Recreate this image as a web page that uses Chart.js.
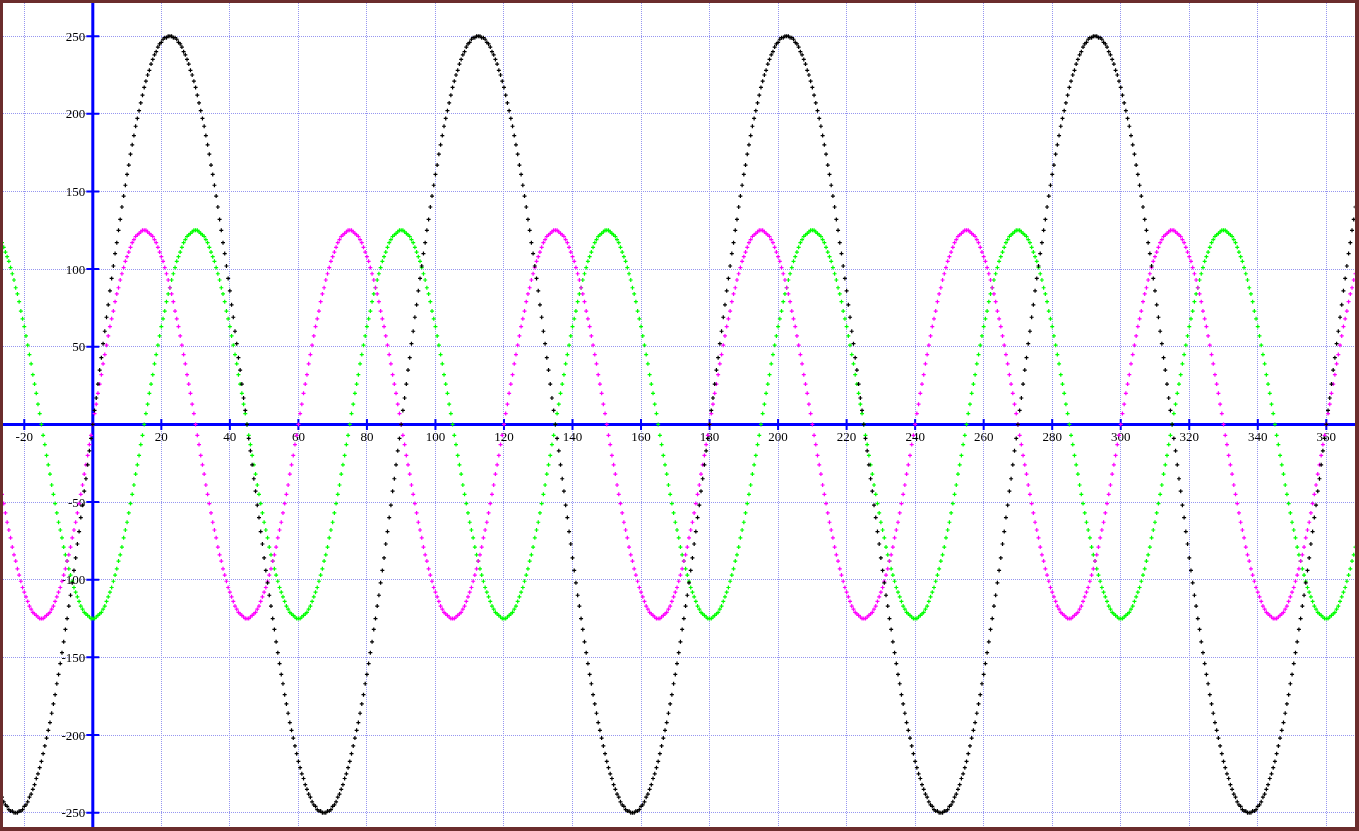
<!DOCTYPE html>
<html><head><meta charset="utf-8">
<script src="https://cdn.jsdelivr.net/npm/chart.js@4.4.1/dist/chart.umd.min.js"></script>
<style>
html,body{margin:0;padding:0;background:#fff;}
#frame{position:absolute;left:0;top:0;width:1352px;height:824px;border-style:solid;border-color:#6b2d2d;border-width:3px 4px 4px 3px;background:#fff;}
canvas{display:block;}
</style></head><body>
<div id="frame"><canvas id="c" width="1352" height="824"></canvas></div>
<script>
const xValues = [
-27,-26.5,-26,-25.5,-25,-24.5,-24,-23.5,-23,-22.5,-22,-21.5,-21,-20.5,-20,-19.5,-19,-18.5,-18,-17.5,
-17,-16.5,-16,-15.5,-15,-14.5,-14,-13.5,-13,-12.5,-12,-11.5,-11,-10.5,-10,-9.5,-9,-8.5,-8,-7.5,
-7,-6.5,-6,-5.5,-5,-4.5,-4,-3.5,-3,-2.5,-2,-1.5,-1,-0.5,0,0.5,1,1.5,2,2.5,
3,3.5,4,4.5,5,5.5,6,6.5,7,7.5,8,8.5,9,9.5,10,10.5,11,11.5,12,12.5,
13,13.5,14,14.5,15,15.5,16,16.5,17,17.5,18,18.5,19,19.5,20,20.5,21,21.5,22,22.5,
23,23.5,24,24.5,25,25.5,26,26.5,27,27.5,28,28.5,29,29.5,30,30.5,31,31.5,32,32.5,
33,33.5,34,34.5,35,35.5,36,36.5,37,37.5,38,38.5,39,39.5,40,40.5,41,41.5,42,42.5,
43,43.5,44,44.5,45,45.5,46,46.5,47,47.5,48,48.5,49,49.5,50,50.5,51,51.5,52,52.5,
53,53.5,54,54.5,55,55.5,56,56.5,57,57.5,58,58.5,59,59.5,60,60.5,61,61.5,62,62.5,
63,63.5,64,64.5,65,65.5,66,66.5,67,67.5,68,68.5,69,69.5,70,70.5,71,71.5,72,72.5,
73,73.5,74,74.5,75,75.5,76,76.5,77,77.5,78,78.5,79,79.5,80,80.5,81,81.5,82,82.5,
83,83.5,84,84.5,85,85.5,86,86.5,87,87.5,88,88.5,89,89.5,90,90.5,91,91.5,92,92.5,
93,93.5,94,94.5,95,95.5,96,96.5,97,97.5,98,98.5,99,99.5,100,100.5,101,101.5,102,102.5,
103,103.5,104,104.5,105,105.5,106,106.5,107,107.5,108,108.5,109,109.5,110,110.5,111,111.5,112,112.5,
113,113.5,114,114.5,115,115.5,116,116.5,117,117.5,118,118.5,119,119.5,120,120.5,121,121.5,122,122.5,
123,123.5,124,124.5,125,125.5,126,126.5,127,127.5,128,128.5,129,129.5,130,130.5,131,131.5,132,132.5,
133,133.5,134,134.5,135,135.5,136,136.5,137,137.5,138,138.5,139,139.5,140,140.5,141,141.5,142,142.5,
143,143.5,144,144.5,145,145.5,146,146.5,147,147.5,148,148.5,149,149.5,150,150.5,151,151.5,152,152.5,
153,153.5,154,154.5,155,155.5,156,156.5,157,157.5,158,158.5,159,159.5,160,160.5,161,161.5,162,162.5,
163,163.5,164,164.5,165,165.5,166,166.5,167,167.5,168,168.5,169,169.5,170,170.5,171,171.5,172,172.5,
173,173.5,174,174.5,175,175.5,176,176.5,177,177.5,178,178.5,179,179.5,180,180.5,181,181.5,182,182.5,
183,183.5,184,184.5,185,185.5,186,186.5,187,187.5,188,188.5,189,189.5,190,190.5,191,191.5,192,192.5,
193,193.5,194,194.5,195,195.5,196,196.5,197,197.5,198,198.5,199,199.5,200,200.5,201,201.5,202,202.5,
203,203.5,204,204.5,205,205.5,206,206.5,207,207.5,208,208.5,209,209.5,210,210.5,211,211.5,212,212.5,
213,213.5,214,214.5,215,215.5,216,216.5,217,217.5,218,218.5,219,219.5,220,220.5,221,221.5,222,222.5,
223,223.5,224,224.5,225,225.5,226,226.5,227,227.5,228,228.5,229,229.5,230,230.5,231,231.5,232,232.5,
233,233.5,234,234.5,235,235.5,236,236.5,237,237.5,238,238.5,239,239.5,240,240.5,241,241.5,242,242.5,
243,243.5,244,244.5,245,245.5,246,246.5,247,247.5,248,248.5,249,249.5,250,250.5,251,251.5,252,252.5,
253,253.5,254,254.5,255,255.5,256,256.5,257,257.5,258,258.5,259,259.5,260,260.5,261,261.5,262,262.5,
263,263.5,264,264.5,265,265.5,266,266.5,267,267.5,268,268.5,269,269.5,270,270.5,271,271.5,272,272.5,
273,273.5,274,274.5,275,275.5,276,276.5,277,277.5,278,278.5,279,279.5,280,280.5,281,281.5,282,282.5,
283,283.5,284,284.5,285,285.5,286,286.5,287,287.5,288,288.5,289,289.5,290,290.5,291,291.5,292,292.5,
293,293.5,294,294.5,295,295.5,296,296.5,297,297.5,298,298.5,299,299.5,300,300.5,301,301.5,302,302.5,
303,303.5,304,304.5,305,305.5,306,306.5,307,307.5,308,308.5,309,309.5,310,310.5,311,311.5,312,312.5,
313,313.5,314,314.5,315,315.5,316,316.5,317,317.5,318,318.5,319,319.5,320,320.5,321,321.5,322,322.5,
323,323.5,324,324.5,325,325.5,326,326.5,327,327.5,328,328.5,329,329.5,330,330.5,331,331.5,332,332.5,
333,333.5,334,334.5,335,335.5,336,336.5,337,337.5,338,338.5,339,339.5,340,340.5,341,341.5,342,342.5,
343,343.5,344,344.5,345,345.5,346,346.5,347,347.5,348,348.5,349,349.5,350,350.5,351,351.5,352,352.5,
353,353.5,354,354.5,355,355.5,356,356.5,357,357.5,358,358.5,359,359.5,360,360.5,361,361.5,362,362.5,
363,363.5,364,364.5,365,365.5,366,366.5,367,367.5,368,368.5,369
];

const magentaSeries = [
-39,-45,-51,-57,-63,-68,-73,-79,-84,-88,-93,-97,-101,-105,-108,-111,-114,-117,-119,-121,
-122,-123,-124,-125,-125,-125,-124,-123,-122,-121,-119,-117,-114,-111,-108,-105,-101,-97,-93,-88,
-84,-79,-73,-68,-63,-57,-51,-45,-39,-32,-26,-20,-13,-7,0,7,13,20,26,32,
39,45,51,57,63,68,73,79,84,88,93,97,101,105,108,111,114,117,119,121,
122,123,124,125,125,125,124,123,122,121,119,117,114,111,108,105,101,97,93,88,
84,79,73,68,63,57,51,45,39,32,26,20,13,7,0,-7,-13,-20,-26,-32,
-39,-45,-51,-57,-63,-68,-73,-79,-84,-88,-93,-97,-101,-105,-108,-111,-114,-117,-119,-121,
-122,-123,-124,-125,-125,-125,-124,-123,-122,-121,-119,-117,-114,-111,-108,-105,-101,-97,-93,-88,
-84,-79,-73,-68,-63,-57,-51,-45,-39,-32,-26,-20,-13,-7,0,7,13,20,26,32,
39,45,51,57,63,68,73,79,84,88,93,97,101,105,108,111,114,117,119,121,
122,123,124,125,125,125,124,123,122,121,119,117,114,111,108,105,101,97,93,88,
84,79,73,68,63,57,51,45,39,32,26,20,13,7,0,-7,-13,-20,-26,-32,
-39,-45,-51,-57,-63,-68,-73,-79,-84,-88,-93,-97,-101,-105,-108,-111,-114,-117,-119,-121,
-122,-123,-124,-125,-125,-125,-124,-123,-122,-121,-119,-117,-114,-111,-108,-105,-101,-97,-93,-88,
-84,-79,-73,-68,-63,-57,-51,-45,-39,-32,-26,-20,-13,-7,0,7,13,20,26,32,
39,45,51,57,63,68,73,79,84,88,93,97,101,105,108,111,114,117,119,121,
122,123,124,125,125,125,124,123,122,121,119,117,114,111,108,105,101,97,93,88,
84,79,73,68,63,57,51,45,39,32,26,20,13,7,0,-7,-13,-20,-26,-32,
-39,-45,-51,-57,-63,-68,-73,-79,-84,-88,-93,-97,-101,-105,-108,-111,-114,-117,-119,-121,
-122,-123,-124,-125,-125,-125,-124,-123,-122,-121,-119,-117,-114,-111,-108,-105,-101,-97,-93,-88,
-84,-79,-73,-68,-63,-57,-51,-45,-39,-32,-26,-20,-13,-7,0,7,13,20,26,32,
39,45,51,57,63,68,73,79,84,88,93,97,101,105,108,111,114,117,119,121,
122,123,124,125,125,125,124,123,122,121,119,117,114,111,108,105,101,97,93,88,
84,79,73,68,63,57,51,45,39,32,26,20,13,7,0,-7,-13,-20,-26,-32,
-39,-45,-51,-57,-63,-68,-73,-79,-84,-88,-93,-97,-101,-105,-108,-111,-114,-117,-119,-121,
-122,-123,-124,-125,-125,-125,-124,-123,-122,-121,-119,-117,-114,-111,-108,-105,-101,-97,-93,-88,
-84,-79,-73,-68,-63,-57,-51,-45,-39,-32,-26,-20,-13,-7,0,7,13,20,26,32,
39,45,51,57,63,68,73,79,84,88,93,97,101,105,108,111,114,117,119,121,
122,123,124,125,125,125,124,123,122,121,119,117,114,111,108,105,101,97,93,88,
84,79,73,68,63,57,51,45,39,32,26,20,13,7,0,-7,-13,-20,-26,-32,
-39,-45,-51,-57,-63,-68,-73,-79,-84,-88,-93,-97,-101,-105,-108,-111,-114,-117,-119,-121,
-122,-123,-124,-125,-125,-125,-124,-123,-122,-121,-119,-117,-114,-111,-108,-105,-101,-97,-93,-88,
-84,-79,-73,-68,-63,-57,-51,-45,-39,-32,-26,-20,-13,-7,0,7,13,20,26,32,
39,45,51,57,63,68,73,79,84,88,93,97,101,105,108,111,114,117,119,121,
122,123,124,125,125,125,124,123,122,121,119,117,114,111,108,105,101,97,93,88,
84,79,73,68,63,57,51,45,39,32,26,20,13,7,0,-7,-13,-20,-26,-32,
-39,-45,-51,-57,-63,-68,-73,-79,-84,-88,-93,-97,-101,-105,-108,-111,-114,-117,-119,-121,
-122,-123,-124,-125,-125,-125,-124,-123,-122,-121,-119,-117,-114,-111,-108,-105,-101,-97,-93,-88,
-84,-79,-73,-68,-63,-57,-51,-45,-39,-32,-26,-20,-13,-7,0,7,13,20,26,32,
39,45,51,57,63,68,73,79,84,88,93,97,101
];

const greenSeries = [
119,117,114,111,108,105,101,97,93,88,84,79,73,68,63,57,51,45,39,32,
26,20,13,7,0,-7,-13,-20,-26,-32,-39,-45,-51,-57,-63,-68,-73,-79,-84,-88,
-93,-97,-101,-105,-108,-111,-114,-117,-119,-121,-122,-123,-124,-125,-125,-125,-124,-123,-122,-121,
-119,-117,-114,-111,-108,-105,-101,-97,-93,-88,-84,-79,-73,-68,-63,-57,-51,-45,-39,-32,
-26,-20,-13,-7,0,7,13,20,26,32,39,45,51,57,63,68,73,79,84,88,
93,97,101,105,108,111,114,117,119,121,122,123,124,125,125,125,124,123,122,121,
119,117,114,111,108,105,101,97,93,88,84,79,73,68,63,57,51,45,39,32,
26,20,13,7,0,-7,-13,-20,-26,-32,-39,-45,-51,-57,-63,-68,-73,-79,-84,-88,
-93,-97,-101,-105,-108,-111,-114,-117,-119,-121,-122,-123,-124,-125,-125,-125,-124,-123,-122,-121,
-119,-117,-114,-111,-108,-105,-101,-97,-93,-88,-84,-79,-73,-68,-63,-57,-51,-45,-39,-32,
-26,-20,-13,-7,0,7,13,20,26,32,39,45,51,57,63,68,73,79,84,88,
93,97,101,105,108,111,114,117,119,121,122,123,124,125,125,125,124,123,122,121,
119,117,114,111,108,105,101,97,93,88,84,79,73,68,63,57,51,45,39,32,
26,20,13,7,0,-7,-13,-20,-26,-32,-39,-45,-51,-57,-63,-68,-73,-79,-84,-88,
-93,-97,-101,-105,-108,-111,-114,-117,-119,-121,-122,-123,-124,-125,-125,-125,-124,-123,-122,-121,
-119,-117,-114,-111,-108,-105,-101,-97,-93,-88,-84,-79,-73,-68,-63,-57,-51,-45,-39,-32,
-26,-20,-13,-7,0,7,13,20,26,32,39,45,51,57,63,68,73,79,84,88,
93,97,101,105,108,111,114,117,119,121,122,123,124,125,125,125,124,123,122,121,
119,117,114,111,108,105,101,97,93,88,84,79,73,68,63,57,51,45,39,32,
26,20,13,7,0,-7,-13,-20,-26,-32,-39,-45,-51,-57,-63,-68,-73,-79,-84,-88,
-93,-97,-101,-105,-108,-111,-114,-117,-119,-121,-122,-123,-124,-125,-125,-125,-124,-123,-122,-121,
-119,-117,-114,-111,-108,-105,-101,-97,-93,-88,-84,-79,-73,-68,-63,-57,-51,-45,-39,-32,
-26,-20,-13,-7,0,7,13,20,26,32,39,45,51,57,63,68,73,79,84,88,
93,97,101,105,108,111,114,117,119,121,122,123,124,125,125,125,124,123,122,121,
119,117,114,111,108,105,101,97,93,88,84,79,73,68,63,57,51,45,39,32,
26,20,13,7,0,-7,-13,-20,-26,-32,-39,-45,-51,-57,-63,-68,-73,-79,-84,-88,
-93,-97,-101,-105,-108,-111,-114,-117,-119,-121,-122,-123,-124,-125,-125,-125,-124,-123,-122,-121,
-119,-117,-114,-111,-108,-105,-101,-97,-93,-88,-84,-79,-73,-68,-63,-57,-51,-45,-39,-32,
-26,-20,-13,-7,0,7,13,20,26,32,39,45,51,57,63,68,73,79,84,88,
93,97,101,105,108,111,114,117,119,121,122,123,124,125,125,125,124,123,122,121,
119,117,114,111,108,105,101,97,93,88,84,79,73,68,63,57,51,45,39,32,
26,20,13,7,0,-7,-13,-20,-26,-32,-39,-45,-51,-57,-63,-68,-73,-79,-84,-88,
-93,-97,-101,-105,-108,-111,-114,-117,-119,-121,-122,-123,-124,-125,-125,-125,-124,-123,-122,-121,
-119,-117,-114,-111,-108,-105,-101,-97,-93,-88,-84,-79,-73,-68,-63,-57,-51,-45,-39,-32,
-26,-20,-13,-7,0,7,13,20,26,32,39,45,51,57,63,68,73,79,84,88,
93,97,101,105,108,111,114,117,119,121,122,123,124,125,125,125,124,123,122,121,
119,117,114,111,108,105,101,97,93,88,84,79,73,68,63,57,51,45,39,32,
26,20,13,7,0,-7,-13,-20,-26,-32,-39,-45,-51,-57,-63,-68,-73,-79,-84,-88,
-93,-97,-101,-105,-108,-111,-114,-117,-119,-121,-122,-123,-124,-125,-125,-125,-124,-123,-122,-121,
-119,-117,-114,-111,-108,-105,-101,-97,-93,-88,-84,-79,-73
];

const blackSeries = [
-238,-240,-243,-245,-246,-248,-249,-249,-250,-250,-250,-249,-249,-248,-246,-245,-243,-240,-238,-235,
-232,-228,-225,-221,-217,-212,-207,-202,-197,-192,-186,-180,-174,-167,-161,-154,-147,-140,-132,-125,
-117,-110,-102,-94,-86,-77,-69,-60,-52,-43,-35,-26,-17,-9,0,9,17,26,35,43,
52,60,69,77,86,94,102,110,117,125,132,140,147,154,161,167,174,180,186,192,
197,202,207,212,217,221,225,228,232,235,238,240,243,245,246,248,249,249,250,250,
250,249,249,248,246,245,243,240,238,235,232,228,225,221,217,212,207,202,197,192,
186,180,174,167,161,154,147,140,132,125,117,110,102,94,86,77,69,60,52,43,
35,26,17,9,0,-9,-17,-26,-35,-43,-52,-60,-69,-77,-86,-94,-102,-110,-117,-125,
-132,-140,-147,-154,-161,-167,-174,-180,-186,-192,-197,-202,-207,-212,-217,-221,-225,-228,-232,-235,
-238,-240,-243,-245,-246,-248,-249,-249,-250,-250,-250,-249,-249,-248,-246,-245,-243,-240,-238,-235,
-232,-228,-225,-221,-217,-212,-207,-202,-197,-192,-186,-180,-174,-167,-161,-154,-147,-140,-132,-125,
-117,-110,-102,-94,-86,-77,-69,-60,-52,-43,-35,-26,-17,-9,0,9,17,26,35,43,
52,60,69,77,86,94,102,110,117,125,132,140,147,154,161,167,174,180,186,192,
197,202,207,212,217,221,225,228,232,235,238,240,243,245,246,248,249,249,250,250,
250,249,249,248,246,245,243,240,238,235,232,228,225,221,217,212,207,202,197,192,
186,180,174,167,161,154,147,140,132,125,117,110,102,94,86,77,69,60,52,43,
35,26,17,9,0,-9,-17,-26,-35,-43,-52,-60,-69,-77,-86,-94,-102,-110,-117,-125,
-132,-140,-147,-154,-161,-167,-174,-180,-186,-192,-197,-202,-207,-212,-217,-221,-225,-228,-232,-235,
-238,-240,-243,-245,-246,-248,-249,-249,-250,-250,-250,-249,-249,-248,-246,-245,-243,-240,-238,-235,
-232,-228,-225,-221,-217,-212,-207,-202,-197,-192,-186,-180,-174,-167,-161,-154,-147,-140,-132,-125,
-117,-110,-102,-94,-86,-77,-69,-60,-52,-43,-35,-26,-17,-9,0,9,17,26,35,43,
52,60,69,77,86,94,102,110,117,125,132,140,147,154,161,167,174,180,186,192,
197,202,207,212,217,221,225,228,232,235,238,240,243,245,246,248,249,249,250,250,
250,249,249,248,246,245,243,240,238,235,232,228,225,221,217,212,207,202,197,192,
186,180,174,167,161,154,147,140,132,125,117,110,102,94,86,77,69,60,52,43,
35,26,17,9,0,-9,-17,-26,-35,-43,-52,-60,-69,-77,-86,-94,-102,-110,-117,-125,
-132,-140,-147,-154,-161,-167,-174,-180,-186,-192,-197,-202,-207,-212,-217,-221,-225,-228,-232,-235,
-238,-240,-243,-245,-246,-248,-249,-249,-250,-250,-250,-249,-249,-248,-246,-245,-243,-240,-238,-235,
-232,-228,-225,-221,-217,-212,-207,-202,-197,-192,-186,-180,-174,-167,-161,-154,-147,-140,-132,-125,
-117,-110,-102,-94,-86,-77,-69,-60,-52,-43,-35,-26,-17,-9,0,9,17,26,35,43,
52,60,69,77,86,94,102,110,117,125,132,140,147,154,161,167,174,180,186,192,
197,202,207,212,217,221,225,228,232,235,238,240,243,245,246,248,249,249,250,250,
250,249,249,248,246,245,243,240,238,235,232,228,225,221,217,212,207,202,197,192,
186,180,174,167,161,154,147,140,132,125,117,110,102,94,86,77,69,60,52,43,
35,26,17,9,0,-9,-17,-26,-35,-43,-52,-60,-69,-77,-86,-94,-102,-110,-117,-125,
-132,-140,-147,-154,-161,-167,-174,-180,-186,-192,-197,-202,-207,-212,-217,-221,-225,-228,-232,-235,
-238,-240,-243,-245,-246,-248,-249,-249,-250,-250,-250,-249,-249,-248,-246,-245,-243,-240,-238,-235,
-232,-228,-225,-221,-217,-212,-207,-202,-197,-192,-186,-180,-174,-167,-161,-154,-147,-140,-132,-125,
-117,-110,-102,-94,-86,-77,-69,-60,-52,-43,-35,-26,-17,-9,0,9,17,26,35,43,
52,60,69,77,86,94,102,110,117,125,132,140,147
];

const xTickLabels = [-20,20,40,60,80,100,120,140,160,180,200,220,240,260,280,300,320,340,360];
const yTickLabels = [250,200,150,100,50,-50,-100,-150,-200,-250];

const centerAxes = {
  id: 'centerAxes',
  beforeDatasetsDraw(chart) {
    const {ctx, chartArea: a, scales: {x, y}} = chart;
    const x0 = x.getPixelForValue(0), y0 = y.getPixelForValue(0);
    ctx.save();
    ctx.strokeStyle = '#0000ff';
    ctx.lineWidth = 3;
    ctx.beginPath();
    ctx.moveTo(a.left, y0); ctx.lineTo(a.right, y0);
    ctx.moveTo(x0, a.top); ctx.lineTo(x0, a.bottom);
    ctx.stroke();
    ctx.lineWidth = 2;
    ctx.beginPath();
    xTickLabels.forEach(v => { const p = x.getPixelForValue(v); ctx.moveTo(p, y0 - 5.5); ctx.lineTo(p, y0 + 5.5); });
    yTickLabels.forEach(v => { const p = y.getPixelForValue(v); ctx.moveTo(x0 - 6.5, p); ctx.lineTo(x0 + 6.5, p); });
    ctx.stroke();
    ctx.fillStyle = '#000';
    ctx.font = '13px "Liberation Serif", "Times New Roman", serif';
    ctx.textBaseline = 'alphabetic';
    ctx.textAlign = 'center';
    xTickLabels.forEach(v => ctx.fillText(String(v), x.getPixelForValue(v), y0 + 16.7));
    ctx.textAlign = 'right';
    yTickLabels.forEach(v => ctx.fillText(String(v), x0 - 7.5, y.getPixelForValue(v) + 4.5));
    ctx.restore();
  }
};

function makeSet(label, data, color) {
  return {
    label, data, showLine: false,
    borderColor: color, backgroundColor: color,
    pointStyle: 'cross', pointRadius: 2, pointBorderWidth: 1.2,
    pointBorderColor: color, pointBackgroundColor: color
  };
}

const gridOpts = { color: '#9696f0', lineWidth: 1, drawTicks: false };
const borderOpts = { display: false, dash: [1, 1] };

new Chart(document.getElementById('c'), {
  type: 'line',
  data: {
    labels: xValues,
    datasets: [
      makeSet('black', blackSeries, '#000000'),
      makeSet('magenta', magentaSeries, '#ff00ff'),
      makeSet('green', greenSeries, '#00ff00')
    ]
  },
  options: {
    responsive: false, animation: false, events: [], devicePixelRatio: 1,
    layout: { padding: 0, autoPadding: false },
    plugins: { legend: { display: false }, tooltip: { enabled: false }, title: { display: false } },
    scales: {
      x: { type: 'linear', min: -26.21, max: 368.37,
           ticks: { stepSize: 20, includeBounds: false, display: false },
           grid: gridOpts, border: borderOpts },
      y: { type: 'linear', min: -259.23, max: 271.35,
           ticks: { stepSize: 50, includeBounds: false, display: false },
           grid: gridOpts, border: borderOpts }
    }
  },
  plugins: [centerAxes]
});
</script>
</body></html>
